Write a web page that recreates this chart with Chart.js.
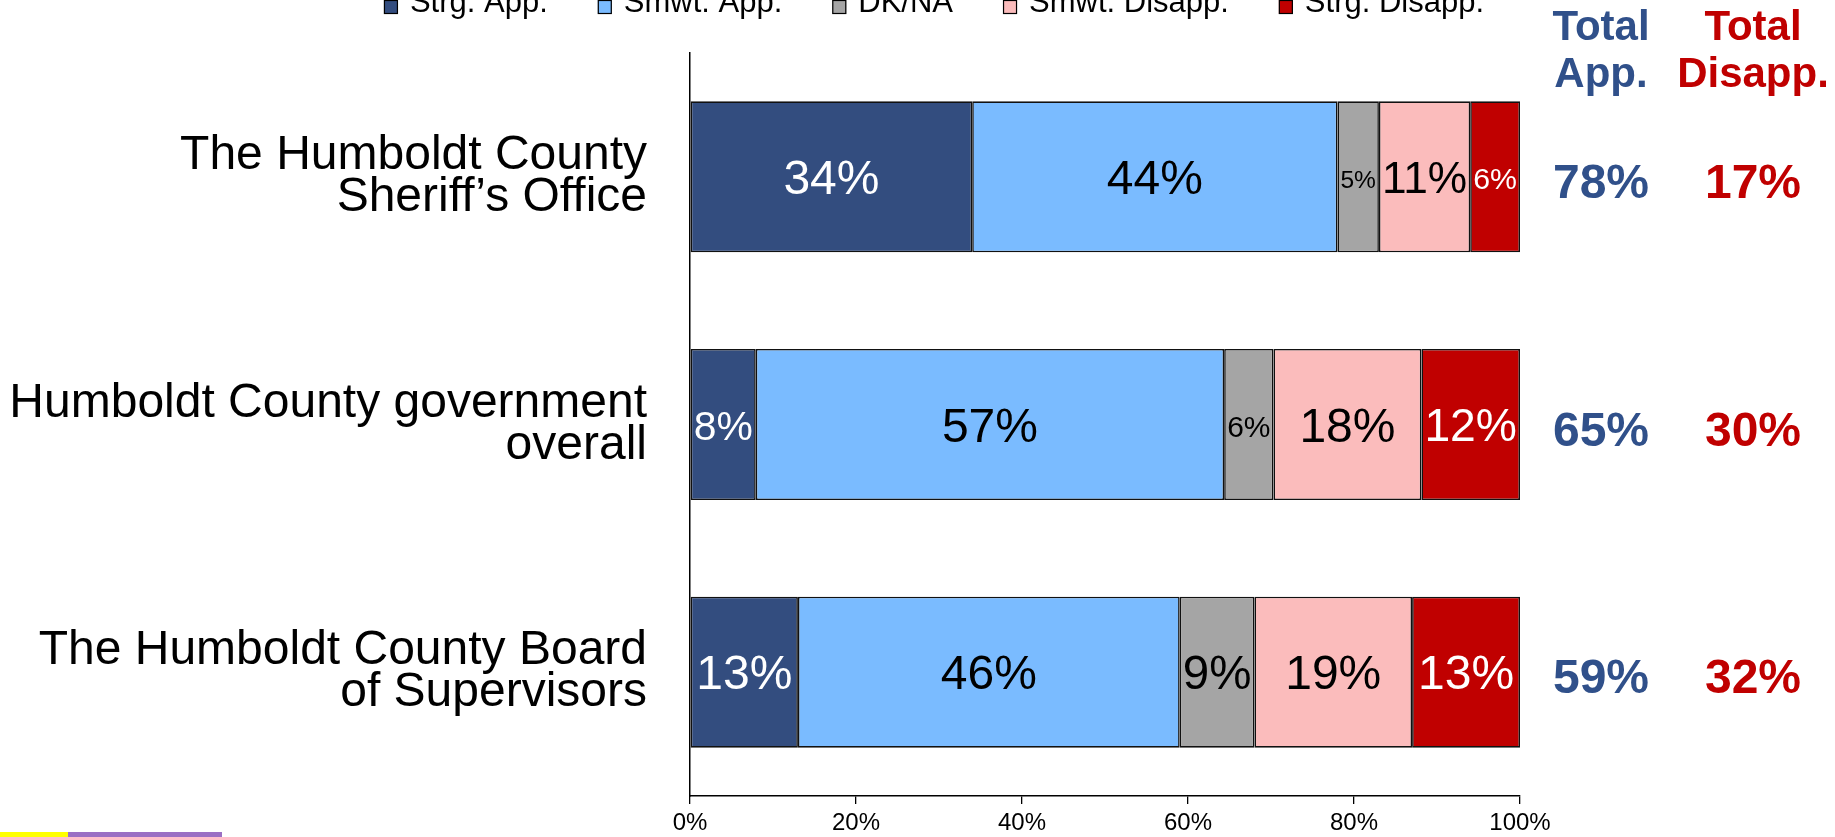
<!DOCTYPE html>
<html>
<head>
<meta charset="utf-8">
<script src="https://cdn.jsdelivr.net/npm/chart.js@4.4.1/dist/chart.umd.min.js"></script>
<style>
  html, body { margin: 0; padding: 0; background: #fff; }
  #wrap { width: 1835px; height: 837px; position: relative; }
</style>
</head>
<body>
<div id="wrap"><canvas id="approval" width="1835" height="837"></canvas></div>
<script>
// survey rows, top to bottom
var categories = [
    ['The Humboldt County', 'Sheriff\u2019s Office'],
    ['Humboldt County government', 'overall'],
    ['The Humboldt County Board', 'of Supervisors']
];
var strgApp = [34, 8, 13];
var smwtApp = [44, 57, 46];
var dkNa = [5, 6, 9];
var smwtDisapp = [11, 18, 19];
var strgDisapp = [6, 12, 13];
var totalApp = [78, 65, 59];
var totalDisapp = [17, 30, 32];
var xTicks = [0, 20, 40, 60, 80, 100];

var seriesNames = ['Strg. App.', 'Smwt. App.', 'DK/NA', 'Smwt. Disapp.', 'Strg. Disapp.'];
var seriesColors = ['#334d7f', '#7abbff', '#a5a5a5', '#fbbcbc', '#c00000'];
var labelColors = ['#ffffff', '#000000', '#000000', '#000000', '#ffffff'];
var appColor = '#30508a';
var disColor = '#c00000';
var FONT = '"Liberation Sans", Arial, sans-serif';

var series = [strgApp, smwtApp, dkNa, smwtDisapp, strgDisapp];
// 100% stacked: each row scaled to its own sum
var rowSums = categories.map(function (c, i) {
    return series.reduce(function (s, arr) { return s + arr[i]; }, 0);
});

var datasets = series.map(function (arr, d) {
    return {
        label: seriesNames[d],
        data: arr.map(function (v, i) { return v / rowSums[i] * 100; }),
        backgroundColor: seriesColors[d],
        borderColor: '#111111',
        borderWidth: 1.6,
        borderSkipped: false,
        barPercentage: 0.61,
        categoryPercentage: 1
    };
});

var barLabels = {
    id: 'barLabels',
    afterDatasetsDraw: function (chart) {
        var ctx = chart.ctx;
        var maxSize = 48;
        ctx.save();
        ctx.textAlign = 'center';
        ctx.textBaseline = 'middle';
        chart.data.datasets.forEach(function (ds, d) {
            chart.getDatasetMeta(d).data.forEach(function (bar, i) {
                var w = Math.abs(bar.x - bar.base);
                var text = series[d][i] + '%';
                ctx.font = maxSize + 'px ' + FONT;
                var tw = ctx.measureText(text).width;
                var size = Math.min(maxSize, maxSize * (w - 6) / tw);
                ctx.font = size + 'px ' + FONT;
                ctx.fillStyle = labelColors[d];
                ctx.fillText(text, (bar.x + bar.base) / 2, bar.y + 4);
            });
        });
        ctx.restore();
    }
};

var totals = {
    id: 'totals',
    afterDraw: function (chart) {
        var ctx = chart.ctx;
        var yScale = chart.scales.y;
        var xa = chart.chartArea.right + 81;
        var xd = chart.chartArea.right + 233;
        ctx.save();
        ctx.textAlign = 'center';
        ctx.textBaseline = 'alphabetic';
        ctx.font = 'bold 42px ' + FONT;
        ctx.fillStyle = appColor;
        ctx.fillText('Total', xa, 40);
        ctx.fillText('App.', xa, 87);
        ctx.fillStyle = disColor;
        ctx.fillText('Total', xd, 40);
        ctx.fillText('Disapp.', xd, 87);
        ctx.font = 'bold 48px ' + FONT;
        ctx.textBaseline = 'middle';
        categories.forEach(function (c, i) {
            var py = yScale.getPixelForValue(i) + 8;
            ctx.fillStyle = appColor;
            ctx.fillText(totalApp[i] + '%', xa, py);
            ctx.fillStyle = disColor;
            ctx.fillText(totalDisapp[i] + '%', xd, py);
        });
        ctx.restore();
    }
};

// legend sits partly above the top edge, so it is drawn by hand
var topLegend = {
    id: 'topLegend',
    afterDraw: function (chart) {
        var ctx = chart.ctx;
        var box = 14, gapText = 12, gapItem = 50;
        ctx.save();
        ctx.font = '31px ' + FONT;
        var widths = chart.data.datasets.map(function (ds) { return ctx.measureText(ds.label).width; });
        var total = widths.reduce(function (s, w) { return s + box + gapText + w; }, 0) + gapItem * (widths.length - 1);
        var x = 934 - total / 2;
        ctx.textBaseline = 'alphabetic';
        ctx.textAlign = 'left';
        chart.data.datasets.forEach(function (ds, d) {
            ctx.fillStyle = ds.backgroundColor;
            ctx.fillRect(x, 0, box, box);
            ctx.strokeStyle = '#000';
            ctx.lineWidth = 1.2;
            ctx.strokeRect(x + 0.5, 0.5, box - 1, box - 1);
            ctx.fillStyle = '#000';
            ctx.fillText(ds.label, x + box + gapText, 12);
            x += box + gapText + widths[d] + gapItem;
        });
        // slide footer strips
        ctx.fillStyle = '#ffff00';
        ctx.fillRect(0, 832, 68, 5);
        ctx.fillStyle = '#9b6fc4';
        ctx.fillRect(68, 832, 154, 5);
        ctx.restore();
    }
};

new Chart(document.getElementById('approval').getContext('2d'), {
    type: 'bar',
    data: { labels: categories, datasets: datasets },
    plugins: [barLabels, totals, topLegend],
    options: {
        indexAxis: 'y',
        responsive: false,
        animation: false,
        devicePixelRatio: 1,
        layout: { padding: { top: 53, right: 315, bottom: 0, left: 0 } },
        plugins: {
            legend: { display: false },
            tooltip: { enabled: false }
        },
        scales: {
            x: {
                type: 'linear',
                stacked: true,
                min: xTicks[0],
                max: xTicks[xTicks.length - 1],
                afterBuildTicks: function (scale) {
                    scale.ticks = xTicks.map(function (v) { return { value: v }; });
                },
                afterFit: function (scale) {
                    scale.height = 41;
                    scale.paddingLeft = 0;
                    scale.paddingRight = 0;
                },
                ticks: {
                    color: '#000',
                    font: { family: FONT, size: 24 },
                    padding: 5,
                    maxRotation: 0,
                    callback: function (v) { return v + '%'; }
                },
                grid: { drawOnChartArea: false, drawTicks: true, tickLength: 8, color: '#000', lineWidth: 1.3 },
                border: { display: true, color: '#000', width: 1.5 }
            },
            y: {
                stacked: true,
                afterFit: function (scale) {
                    scale.width = 690;
                    scale.paddingTop = 0;
                    scale.paddingBottom = 0;
                },
                ticks: {
                    color: '#000',
                    font: { family: FONT, size: 48, lineHeight: 0.875 },
                    padding: 43
                },
                grid: { display: false, drawTicks: false },
                border: { display: true, color: '#000', width: 1.5 }
            }
        }
    }
});
</script>
</body>
</html>
